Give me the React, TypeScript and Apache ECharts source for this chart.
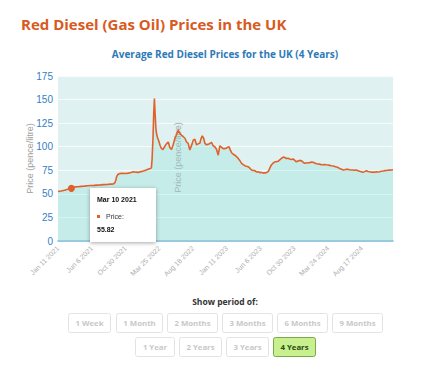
import React, { useEffect, useRef } from "react";
import * as echarts from "echarts";

// ---- data ----
const dates = [
  "2021-01-11", "2021-01-25", "2021-02-08", "2021-02-22", "2021-03-10", "2021-03-24",
  "2021-04-07", "2021-04-21", "2021-05-05", "2021-05-19", "2021-06-02", "2021-06-16",
  "2021-06-30", "2021-07-14", "2021-07-28", "2021-08-11", "2021-08-25", "2021-09-08",
  "2021-09-14", "2021-09-18", "2021-09-22", "2021-09-27", "2021-10-04", "2021-10-15",
  "2021-10-29", "2021-11-12", "2021-11-22", "2021-12-03", "2021-12-14", "2021-12-25",
  "2022-01-05", "2022-01-15", "2022-01-25", "2022-02-04", "2022-02-14", "2022-02-19",
  "2022-02-22", "2022-02-26", "2022-03-01", "2022-03-04", "2022-03-07", "2022-03-10",
  "2022-03-13", "2022-03-17", "2022-03-23", "2022-03-29", "2022-04-04", "2022-04-10",
  "2022-04-18", "2022-04-25", "2022-05-03", "2022-05-10", "2022-05-17", "2022-05-24",
  "2022-06-01", "2022-06-08", "2022-06-15", "2022-06-22", "2022-06-30", "2022-07-07",
  "2022-07-14", "2022-07-21", "2022-07-28", "2022-08-04", "2022-08-14", "2022-08-19",
  "2022-08-26", "2022-09-02", "2022-09-09", "2022-09-17", "2022-09-21", "2022-09-27",
  "2022-10-03", "2022-10-08", "2022-10-14", "2022-10-22", "2022-10-30", "2022-11-06",
  "2022-11-13", "2022-11-20", "2022-11-28", "2022-12-05", "2022-12-12", "2022-12-19",
  "2022-12-26", "2023-01-03", "2023-01-10", "2023-01-16", "2023-01-21", "2023-01-27",
  "2023-02-01", "2023-02-08", "2023-02-15", "2023-02-22", "2023-03-01", "2023-03-08",
  "2023-03-16", "2023-03-23", "2023-03-30", "2023-04-06", "2023-04-13", "2023-04-20",
  "2023-04-28", "2023-05-05", "2023-05-12", "2023-05-19", "2023-05-27", "2023-06-03",
  "2023-06-10", "2023-06-17", "2023-06-24", "2023-07-02", "2023-07-08", "2023-07-13",
  "2023-07-18", "2023-07-23", "2023-07-30", "2023-08-07", "2023-08-14", "2023-08-21",
  "2023-08-28", "2023-09-04", "2023-09-12", "2023-09-19", "2023-09-26", "2023-10-03",
  "2023-10-10", "2023-10-18", "2023-10-25", "2023-11-01", "2023-11-08", "2023-11-15",
  "2023-11-22", "2023-11-30", "2023-12-07", "2023-12-14", "2023-12-21", "2023-12-29",
  "2024-01-05", "2024-01-12", "2024-01-19", "2024-01-26", "2024-02-03", "2024-02-10",
  "2024-02-17", "2024-02-24", "2024-03-02", "2024-03-09", "2024-03-16", "2024-03-24",
  "2024-03-31", "2024-04-07", "2024-04-15", "2024-04-22", "2024-04-29", "2024-05-06",
  "2024-05-13", "2024-05-21", "2024-05-28", "2024-06-04", "2024-06-11", "2024-06-18",
  "2024-06-25", "2024-07-02", "2024-07-10", "2024-07-17", "2024-07-24", "2024-08-01",
  "2024-08-08", "2024-08-15", "2024-08-22", "2024-08-29", "2024-09-06", "2024-09-13",
  "2024-09-20", "2024-09-27", "2024-10-04", "2024-10-12", "2024-10-19", "2024-10-26",
  "2024-11-02", "2024-11-09", "2024-11-17", "2024-11-24", "2024-12-01", "2024-12-08",
  "2024-12-16", "2024-12-23", "2024-12-30",
];

const prices = [
  52.5, 53.0, 53.8, 54.8, 55.82, 57.4,
  57.6, 57.9, 58.2, 58.6, 58.8, 59.0,
  59.3, 59.5, 59.8, 60.0, 60.3, 60.6,
  61.8, 64.5, 68.5, 70.5, 71.5, 71.8,
  71.6, 72.0, 72.6, 73.5, 73.0, 72.8,
  73.6, 74.2, 75.0, 76.0, 76.8, 77.5,
  87, 110, 135, 151, 135, 121,
  114, 110, 106, 101, 98, 97,
  100.5, 103, 105, 99, 97, 102,
  109, 113, 117.5, 114, 112, 110.6,
  109, 105, 103.6, 96.5, 103, 107,
  108, 102, 103, 104, 108, 111.5,
  109, 104, 102, 102.5, 103.5, 104.5,
  101, 100, 97, 91, 100.8, 99.5,
  98, 98, 98.5, 99.5, 100, 96,
  93.6, 92, 91, 89.5, 87.7, 85.5,
  82.4, 81, 79.9, 79.2, 78.8, 77.5,
  75.3, 74.8, 74.6, 73.2, 73.5, 72.5,
  72.8, 72.0, 72.3, 72.5, 73.5, 75.3,
  78.5, 80.6, 82.5, 84, 84.2, 84.5,
  86, 87.5, 89, 88.5, 87.5, 87.7,
  87, 86.5, 87, 85.5, 84, 84.8,
  85.5, 85.2, 83.5, 82.4, 82.8, 83,
  83, 83.8, 83.5, 82.8, 82, 81.7,
  81.5, 81, 80.9, 81.2, 80.8, 80.6,
  80.2, 79.8, 79.5, 79, 78.5, 78,
  77, 76.2, 75.3, 75.6, 76, 76,
  75.6, 75.3, 75.3, 75, 75.2, 74.6,
  74, 73.5, 72.8, 73.6, 74.6, 73.8,
  73.5, 73, 73.2, 72.8, 73.4, 73.2,
  73.5, 74, 74.2, 74.6, 74.8, 75,
  75.2, 75.3, 75.5,
];

const xTickLabels = [
  "Jan 11 2021", "Jun 6 2021", "Oct 30 2021", "Mar 25 2022", "Aug 18 2022",
  "Jan 11 2023", "Jun 6 2023", "Oct 30 2023", "Mar 24 2024", "Aug 17 2024",
];
const tickStepDays = 146;
const tooltipDate = "2021-03-10";
const tooltipLabel = "Mar 10 2021";

const row1Buttons = ["1 Week", "1 Month", "2 Months", "3 Months", "6 Months", "9 Months"];
const row2Buttons = ["1 Year", "2 Years", "3 Years", "4 Years"];
const activeButton = "4 Years";

// ---- helpers ----
const START = Date.parse(dates[0]);
const dayOf = (s: string) => Math.round((Date.parse(s) - START) / 864e5);

const LINE = "#e0612b";

export default function App() {
  const ref = useRef<HTMLDivElement>(null);

  useEffect(() => {
    document.body.style.margin = "0";
    if (!ref.current) return;
    const chart = echarts.init(ref.current, null, { renderer: "svg" });

    const seriesData = dates.map((d, i) => [dayOf(d), prices[i]]);
    const tipIndex = dates.indexOf(tooltipDate);
    const lastDay = dayOf(dates[dates.length - 1]);

    // button layout (x-left, x-right)
    const row1X = [[68, 110], [116, 162], [167, 217], [222, 272], [277, 327], [332, 382]];
    const row2X = [[135, 174], [179, 221], [226, 268], [273, 315]];
    const mkBtn = (label: string, x0: number, x1: number, y0: number, y1: number) => {
      const active = label === activeButton;
      return {
        type: "group",
        children: [
          {
            type: "rect",
            shape: { x: x0 + 0.5, y: y0 + 0.5, width: x1 - x0, height: y1 - y0, r: 2 },
            style: {
              fill: active ? "#c8f08e" : "#ffffff",
              stroke: active ? "#79a94a" : "#e3e3e3",
              lineWidth: 1,
            },
          },
          {
            type: "text",
            style: {
              text: label,
              x: (x0 + x1) / 2 + 0.5,
              y: (y0 + y1) / 2 + 0.5,
              align: "center",
              verticalAlign: "middle",
              fontFamily: "Open Sans",
              fontWeight: "bold",
              fontSize: 7.8,
              fill: active ? "#2c4a12" : "#c8c8c8",
            },
          },
        ],
      };
    };

    const buttons = [
      ...row1Buttons.map((b, i) => mkBtn(b, row1X[i][0], row1X[i][1], 313, 332)),
      ...row2Buttons.map((b, i) => mkBtn(b, row2X[i][0], row2X[i][1], 337, 356)),
    ];

    chart.setOption({
      animation: false,
      backgroundColor: "#ffffff",
      grid: {
        left: 58,
        right: 39,
        top: 76,
        bottom: 130,
        show: true,
        backgroundColor: "#dff1f0",
        borderWidth: 0,
      },
      xAxis: {
        type: "value",
        min: 0,
        max: lastDay,
        interval: tickStepDays,
        axisLine: { show: true, lineStyle: { color: "#79b4d6", width: 1.5 } },
        axisTick: { show: false },
        splitLine: { show: false },
        axisLabel: {
          rotate: 45,
          margin: 6,
          fontSize: 7,
          color: "#adadad",
          fontFamily: "Liberation Sans",
          showMaxLabel: false,
          formatter: (v: number) => {
            const idx = Math.round(v / tickStepDays);
            return Math.abs(v - idx * tickStepDays) < 0.5 && xTickLabels[idx] ? xTickLabels[idx] : "";
          },
        },
      },
      yAxis: {
        type: "value",
        min: 0,
        max: 175,
        interval: 25,
        name: "Price (pence/litre)",
        nameLocation: "middle",
        nameGap: 24,
        nameMoveOverlap: false,
        nameTextStyle: { color: "#9e9e9e", fontSize: 9, fontFamily: "Liberation Sans" },
        axisLine: { show: false },
        axisTick: { show: false },
        axisLabel: { margin: 5, fontSize: 10, color: "#3580c4", fontFamily: "Liberation Sans" },
        splitLine: { show: true, lineStyle: { color: "rgba(255,255,255,0.75)", width: 1 } },
      },
      tooltip: {
        trigger: "axis",
        triggerOn: "none",
        alwaysShowContent: true,
        axisPointer: { type: "none" },
        transitionDuration: 0,
        padding: 0,
        borderWidth: 0,
        backgroundColor: "#ffffff",
        extraCssText:
          "box-shadow:0 1px 4px rgba(0,0,0,0.35);border-radius:0;width:66px;height:54px;box-sizing:border-box;",
        position: () => [90, 188],
        formatter: (params: any) => {
          const p = Array.isArray(params) ? params[0] : params;
          const v = p.data[1];
          return (
            `<div style="padding:6px 7px;font-family:'Liberation Sans',Arial,sans-serif;font-size:7px;color:#111;">` +
            `<div style="line-height:12px;font-weight:bold;">${tooltipLabel}</div>` +
            `<div style="line-height:12px;margin-top:4.5px;color:#333;"><span style="display:inline-block;width:3px;height:3px;background:${LINE};margin-right:6px;vertical-align:middle;"></span>Price:</div>` +
            `<div style="line-height:12px;margin-top:1px;font-weight:bold;">${v.toFixed(2)}</div>` +
            `</div>`
          );
        },
      },
      graphic: {
        elements: [
          {
            type: "text",
            z: 100,
            style: {
              text: "Red Diesel (Gas Oil) Prices in the UK",
              x: 21,
              y: 23.5,
              verticalAlign: "middle",
              fontFamily: "Open Sans",
              fontWeight: "bold",
              fontSize: 15,
              fill: "#d95a1e",
            },
          },
          {
            type: "text",
            z: 100,
            style: {
              text: "Average Red Diesel Prices for the UK (4 Years)",
              x: 225,
              y: 53.5,
              align: "center",
              verticalAlign: "middle",
              fontFamily: "Open Sans",
              fontWeight: "bold",
              fontSize: 10,
              fill: "#2d7ab8",
            },
          },
          {
            type: "text",
            z: 1,
            rotation: Math.PI / 2,
            x: 177.5,
            y: 157.5,
            style: {
              text: "Price (pence/litre)",
              x: 0,
              y: 0,
              align: "center",
              verticalAlign: "middle",
              fontFamily: "Liberation Sans",
              fontSize: 9,
              fill: "#a6a6a6",
            },
          },
          {
            type: "text",
            z: 100,
            style: {
              text: "Show period of:",
              x: 225,
              y: 301,
              align: "center",
              verticalAlign: "middle",
              fontFamily: "Open Sans",
              fontWeight: "bold",
              fontSize: 8.5,
              fill: "#333333",
            },
          },
          ...buttons,
        ],
      },
      series: [
        {
          type: "line",
          data: seriesData,
          showSymbol: false,
          symbol: "none",
          z: 3,
          lineStyle: { color: LINE, width: 1.6 },
          itemStyle: { color: LINE },
          areaStyle: { color: "rgba(150,227,220,0.47)", origin: "start" },
          emphasis: { disabled: true },
          markPoint: {
            symbol: "circle",
            symbolSize: 7,
            itemStyle: { color: LINE },
            label: { show: false },
            data: [{ coord: seriesData[tipIndex] }],
          },
        },
      ],
    });

    chart.dispatchAction({ type: "showTip", seriesIndex: 0, dataIndex: tipIndex });

    return () => chart.dispose();
  }, []);

  return (
    <div style={{ position: "fixed", left: 0, top: 0, width: 432, height: 371, background: "#fff" }}>
      <div ref={ref} style={{ width: 432, height: 371 }} />
    </div>
  );
}
